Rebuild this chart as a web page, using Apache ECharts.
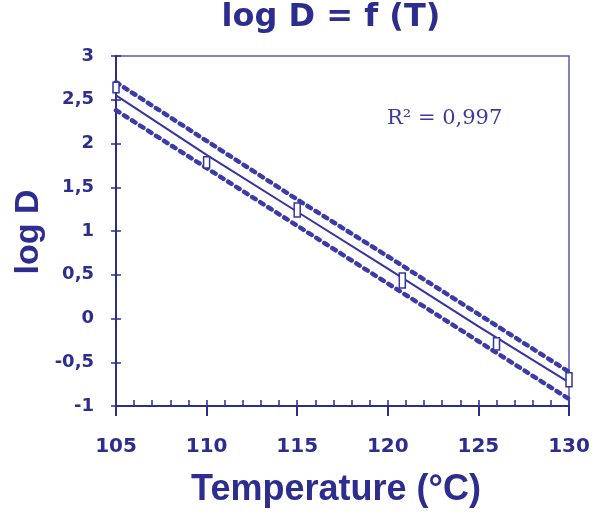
<!DOCTYPE html>
<html>
<head>
<meta charset="utf-8">
<script src="https://cdn.jsdelivr.net/npm/echarts@6/dist/echarts.min.js"></script>
<style>
  html, body { margin: 0; padding: 0; background: #fff; }
  #chart { width: 598px; height: 518px; }
</style>
</head>
<body>
<div id="chart"></div>
<script>
const temps = [105, 110, 115, 120, 125, 130];
const upperBand = [2.70, 2.03, 1.36, 0.71, 0.05, -0.61];
const middleLine = [2.55, 1.87, 1.22, 0.57, -0.09, -0.73];
const lowerBand = [2.38, 1.72, 1.06, 0.40, -0.26, -0.92];

const boxTemps = [105, 110, 115, 120.8, 126, 130];
const boxTop = [2.70, 1.85, 1.32, 0.52, -0.22, -0.62];
const boxBottom = [2.58, 1.72, 1.16, 0.35, -0.36, -0.78];

const navy = '#2d2d8f';
const lineBlue = '#3434a0';

const pairs = (ys) => temps.map((t, i) => [t, ys[i]]);

const chart = echarts.init(document.getElementById('chart'));

const axisBase = {
  type: 'value',
  splitLine: { show: false },
  axisLine: { onZero: false, lineStyle: { color: navy, width: 2 } },
};

// beaded look for the scatter bands
const bandStyle = { color: '#3a3aa8', width: 4.5, type: [4, 5.5], cap: 'round' };

chart.setOption({
  animation: false,
  backgroundColor: '#fff',
  grid: {
    left: 116, right: 29, top: 56, bottom: 112,
    show: true, borderColor: '#5a5ab0', borderWidth: 1.5,
  },
  xAxis: [
    {
      ...axisBase,
      min: 105, max: 130, interval: 5,
      axisTick: { length: 10, lineStyle: { color: navy, width: 2 } },
      axisLabel: {
        margin: 31, color: navy, fontSize: 20, fontWeight: 'bold',
        fontFamily: 'DejaVu Sans',
      },
    },
    {
      ...axisBase,
      min: 105, max: 130, interval: 1,
      position: 'bottom',
      axisLine: { show: false, onZero: false },
      axisTick: { inside: true, length: 6, lineStyle: { color: navy, width: 1.5 } },
      axisLabel: { show: false },
    },
  ],
  yAxis: [
    {
      ...axisBase,
      min: -1, max: 3, interval: 0.5,
      axisTick: { length: 5, lineStyle: { color: navy, width: 1.5 } },
      axisLabel: {
        margin: 22, color: navy, fontSize: 18, fontWeight: 'bold',
        fontFamily: 'DejaVu Sans',
        formatter: (v) => String(v).replace('.', ','),
      },
    },
    {
      ...axisBase,
      min: -1, max: 3, interval: 0.5,
      position: 'left',
      axisLine: { show: false, onZero: false },
      axisTick: { inside: true, length: 5, lineStyle: { color: navy, width: 1.5 } },
      axisLabel: { show: false },
    },
  ],
  series: [
    { type: 'line', data: pairs(upperBand), symbol: 'none', lineStyle: bandStyle },
    { type: 'line', data: pairs(lowerBand), symbol: 'none', lineStyle: bandStyle },
    {
      type: 'line',
      data: pairs(middleLine),
      symbol: 'none',
      lineStyle: { color: lineBlue, width: 2 },
    },
    {
      type: 'custom',
      clip: false,
      z: 5,
      data: boxTemps.map((t, i) => [t, boxTop[i], boxBottom[i]]),
      renderItem: (params, api) => {
        const top = api.coord([api.value(0), api.value(1)]);
        const bot = api.coord([api.value(0), api.value(2)]);
        return {
          type: 'rect',
          shape: { x: top[0] - 3, y: top[1], width: 6, height: bot[1] - top[1] },
          style: { fill: '#fff', stroke: lineBlue, lineWidth: 1.5 },
        };
      },
    },
  ],
  graphic: [
    {
      type: 'text', x: 331, y: 18,
      style: {
        text: 'log D = f (T)', fill: navy,
        font: 'bold 32px "DejaVu Sans"',
        align: 'center', verticalAlign: 'middle',
        textAlign: 'center', textVerticalAlign: 'middle',
      },
    },
    {
      type: 'text', x: 336, y: 490,
      style: {
        text: 'Temperature (°C)', fill: navy,
        font: 'bold 36px "Liberation Sans"',
        align: 'center', verticalAlign: 'middle',
        textAlign: 'center', textVerticalAlign: 'middle',
      },
    },
    {
      type: 'text', x: 29, y: 232, rotation: Math.PI / 2,
      style: {
        text: 'log D', fill: navy,
        font: 'bold 34px "Liberation Sans"',
        align: 'center', verticalAlign: 'middle',
        textAlign: 'center', textVerticalAlign: 'middle',
      },
    },
    {
      type: 'text', x: 387, y: 119,
      style: {
        text: 'R² = 0,997', fill: '#3b3b9e',
        font: '21px "DejaVu Serif"',
        align: 'left', verticalAlign: 'middle',
        textAlign: 'left', textVerticalAlign: 'middle',
      },
    },
  ],
});
</script>
</body>
</html>
